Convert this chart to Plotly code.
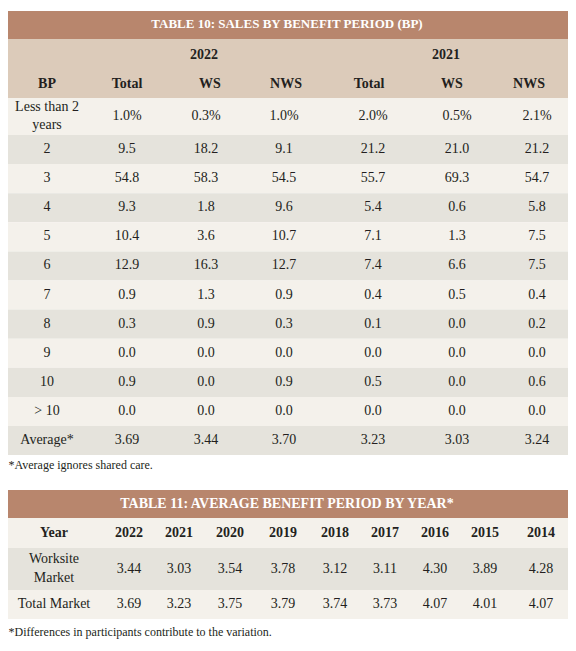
import plotly.graph_objects as go

# ---------------- data ----------------
bp_labels = ["Less than 2<br>years", "2", "3", "4", "5", "6", "7", "8", "9", "10", "> 10"]
avg_label = "Average*"
col_groups = ["2022", "2021"]
col_names = ["BP", "Total", "WS", "NWS", "Total", "WS", "NWS"]

total_2022 = [1.0, 9.5, 54.8, 9.3, 10.4, 12.9, 0.9, 0.3, 0.0, 0.9, 0.0]
ws_2022 = [0.3, 18.2, 58.3, 1.8, 3.6, 16.3, 1.3, 0.9, 0.0, 0.0, 0.0]
nws_2022 = [1.0, 9.1, 54.5, 9.6, 10.7, 12.7, 0.9, 0.3, 0.0, 0.9, 0.0]
total_2021 = [2.0, 21.2, 55.7, 5.4, 7.1, 7.4, 0.4, 0.1, 0.0, 0.5, 0.0]
ws_2021 = [0.5, 21.0, 69.3, 0.6, 1.3, 6.6, 0.5, 0.0, 0.0, 0.0, 0.0]
nws_2021 = [2.1, 21.2, 54.7, 5.8, 7.5, 7.5, 0.4, 0.2, 0.0, 0.6, 0.0]
avg_bp = [3.69, 3.44, 3.70, 3.23, 3.03, 3.24]

years = ["2022", "2021", "2020", "2019", "2018", "2017", "2016", "2015", "2014"]
worksite_avg = [3.44, 3.03, 3.54, 3.78, 3.12, 3.11, 4.30, 3.89, 4.28]
total_avg = [3.69, 3.23, 3.75, 3.79, 3.74, 3.73, 4.07, 4.01, 4.07]

title10 = "TABLE 10: SALES BY BENEFIT PERIOD (BP)"
title11 = "TABLE 11: AVERAGE BENEFIT PERIOD BY YEAR*"
note10 = "*Average ignores shared care."
note11 = "*Differences in participants contribute to the variation."

# ---------------- style / layout constants ----------------
W, H = 576, 651
PAGE_MARGIN = 8  # default body margin of the html page
FONT = "Liberation Serif"
TXT = "#231f20"
C_TITLE = "#b8866d"
C_HEAD = "#dccbba"
C_LIGHT = "#f4f1eb"
C_DARK = "#e5e3dc"
X0, X1 = 6, 568

# table 10 geometry
t10_title = (11, 39)
t10_head = (39, 98)
t10_row_h = [37] + [29.1] * 11
t10_head_x = [47, 127, 210, 286, 369, 452, 529]
t10_data_x = [47, 127, 206, 284, 373, 457, 537]
t10_group_x = [204, 446]

# table 11 geometry
t11_title = (490, 518)
t11_row_h = [30, 42, 29]
t11_x = [54, 129, 179, 230, 283, 335, 385, 435, 485, 541]

fig = go.Figure()
shapes = []


def rect(y0, y1, color):
    shapes.append(dict(type="rect", xref="x", yref="y", x0=X0, x1=X1, y0=y0, y1=y1,
                       fillcolor=color, line=dict(width=0), layer="below"))


def text_trace(xs, ys, texts, size=14, bold=False, color=TXT, pos="middle center"):
    fig.add_trace(go.Scatter(
        x=xs, y=ys, text=texts, mode="text", textposition=pos,
        textfont=dict(family=FONT, size=size, color=color,
                      weight="bold" if bold else "normal"),
        hoverinfo="skip", showlegend=False, cliponaxis=False))


def fmt(v, first):
    return f"{v:.1f}%" if first else f"{v:.1f}"


# ---- Table 10 ----
rect(*t10_title, C_TITLE)
rect(*t10_head, C_HEAD)
text_trace([(X0 + X1) / 2], [sum(t10_title) / 2], [title10], size=13, bold=True, color="white")
text_trace(t10_group_x, [55, 55], col_groups, bold=True)
text_trace(t10_head_x, [84] * len(col_names), col_names, bold=True)

row_top = t10_head[1]
row_centers = []
for i, h in enumerate(t10_row_h):
    rect(row_top, row_top + h, C_LIGHT if i % 2 == 0 else C_DARK)
    row_centers.append(row_top + h / 2)
    row_top += h
t10_bottom = row_top

labels = bp_labels + [avg_label]
text_trace([t10_data_x[0]] * len(labels), row_centers, labels)
series = [total_2022, ws_2022, nws_2022, total_2021, ws_2021, nws_2021]
for j, s in enumerate(series):
    vals = [fmt(v, k == 0) for k, v in enumerate(s)] + [f"{avg_bp[j]:.2f}"]
    text_trace([t10_data_x[j + 1]] * len(vals), row_centers, vals)

text_trace([PAGE_MARGIN + 0.5], [t10_bottom + 11], [note10], size=12, pos="middle right")

# ---- Table 11 ----
rect(*t11_title, C_TITLE)
text_trace([(X0 + X1) / 2], [sum(t11_title) / 2], [title11], size=14, bold=True, color="white")
row_top = t11_title[1]
c11 = []
for i, h in enumerate(t11_row_h):
    rect(row_top, row_top + h, C_LIGHT if i % 2 == 0 else C_DARK)
    c11.append(row_top + h / 2)
    row_top += h
t11_bottom = row_top

text_trace(t11_x, [c11[0]] * len(t11_x), ["Year"] + years, bold=True)
text_trace(t11_x, [c11[1]] * len(t11_x),
           ["Worksite<br>Market"] + [f"{v:.2f}" for v in worksite_avg])
text_trace(t11_x, [c11[2]] * len(t11_x),
           ["Total Market"] + [f"{v:.2f}" for v in total_avg])

text_trace([PAGE_MARGIN + 0.5], [t11_bottom + 14], [note11], size=12, pos="middle right")

fig.update_layout(
    width=W - PAGE_MARGIN, height=H - PAGE_MARGIN, margin=dict(l=0, r=0, t=0, b=0),
    paper_bgcolor="white", plot_bgcolor="white",
    xaxis=dict(range=[PAGE_MARGIN, W], visible=False, fixedrange=True),
    yaxis=dict(range=[H, PAGE_MARGIN], visible=False, fixedrange=True),
    shapes=shapes, showlegend=False, hovermode=False,
)

fig.write_html("out.html", config={"displayModeBar": False})
